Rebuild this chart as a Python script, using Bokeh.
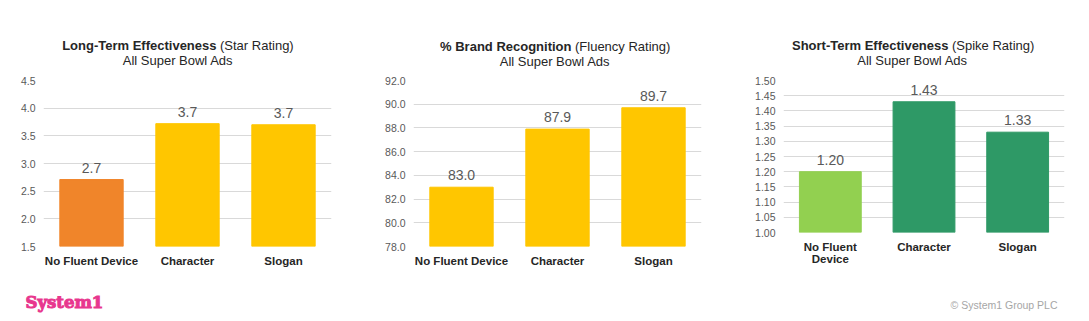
from bokeh.plotting import figure
from bokeh.layouts import row, column
from bokeh.models import ColumnDataSource, FixedTicker, LabelSet, Range1d
from bokeh.core.properties import value
from bokeh.embed import file_html
from bokeh.resources import INLINE

categories = ["No Fluent Device", "Character", "Slogan"]
categories_wrapped = ["No Fluent\nDevice", "Character", "Slogan"]

star_values = [2.71, 3.72, 3.70]
star_colors = ["#F0852A", "#FFC600", "#FFC600"]
star_ticks = [1.5, 2.0, 2.5, 3.0, 3.5, 4.0, 4.5]

fluency_values = [83.0, 87.9, 89.7]
fluency_colors = ["#FFC600", "#FFC600", "#FFC600"]
fluency_ticks = [78.0, 80.0, 82.0, 84.0, 86.0, 88.0, 90.0, 92.0]

spike_values = [1.20, 1.43, 1.33]
spike_colors = ["#92D050", "#2E9966", "#2E9966"]
spike_ticks = [1.00, 1.05, 1.10, 1.15, 1.20, 1.25, 1.30, 1.35, 1.40, 1.45, 1.50]

titles_bold = ["Long-Term Effectiveness", "% Brand Recognition", "Short-Term Effectiveness"]
titles_normal = ["(Star Rating)", "(Fluency Rating)", "(Spike Rating)"]
subtitle = "All Super Bowl Ads"
logo_text = "System1"
copyright_text = "\u00a9 System1 Group PLC"

FONT = "Liberation Sans"
GRID = "#D9D9D9"
TICK = "#595959"
DARK = "#262626"
PINK = "#E8378E"


def blank(width, height):
    p = figure(width=width, height=height, x_range=Range1d(0, width),
               y_range=Range1d(height, 0), x_axis_type=None, y_axis_type=None,
               output_backend="svg", toolbar_location=None, outline_line_color=None,
               min_border=0, min_border_left=0, min_border_right=0,
               min_border_top=0, min_border_bottom=0)
    p.xgrid.grid_line_color = None
    p.ygrid.grid_line_color = None
    return p


def title_fig(width, bold, normal, split_x, center_x, y1, y2):
    p = blank(width, 72)
    p.text(x=[split_x], y=[y1], text=[bold], text_align="right", text_baseline="middle",
           text_font=value(FONT), text_font_size="13px", text_font_style="bold",
           text_color=DARK)
    p.text(x=[split_x + 3.5], y=[y1], text=[normal], text_align="left",
           text_baseline="middle", text_font=value(FONT), text_font_size="13px",
           text_color=DARK)
    p.text(x=[center_x], y=[y2], text=[subtitle], text_align="center",
           text_baseline="middle", text_font=value(FONT), text_font_size="13px",
           text_color=DARK)
    return p


def make_chart(cats, values, colors, ticks, decimals, width, height, borders):
    left, right, top, bottom = borders
    p = figure(x_range=cats, y_range=Range1d(ticks[0], ticks[-1]),
               width=width, height=height, output_backend="svg", toolbar_location=None,
               min_border_left=left, min_border_right=right,
               min_border_top=top, min_border_bottom=bottom,
               outline_line_color=None)
    fmt = "{:.%df}" % decimals
    src = ColumnDataSource(dict(cat=cats, val=values, col=colors,
                                lab=[fmt.format(v) for v in values]))
    p.vbar(x="cat", top="val", bottom=ticks[0], width=0.66, color="col", source=src)
    p.add_layout(LabelSet(x="cat", y="val", text="lab", source=src, text_align="center",
                          text_baseline="alphabetic", y_offset=7, text_font=value(FONT),
                          text_font_size="14px", text_color=TICK))
    p.yaxis.ticker = FixedTicker(ticks=ticks)
    p.yaxis.major_label_overrides = {t: fmt.format(t) for t in ticks}
    p.yaxis.axis_line_color = None
    p.yaxis.major_tick_line_color = None
    p.yaxis.minor_tick_line_color = None
    p.yaxis.major_tick_out = 0
    p.yaxis.major_tick_in = 0
    p.yaxis.minor_tick_out = 0
    p.yaxis.major_label_text_font = FONT
    p.yaxis.major_label_text_font_size = "10.5px"
    p.yaxis.major_label_text_color = TICK
    p.yaxis.major_label_standoff = 8
    p.xaxis.axis_line_color = None
    p.xaxis.major_tick_line_color = None
    p.xaxis.major_tick_out = 0
    p.xaxis.major_tick_in = 0
    p.xaxis.major_label_text_font = FONT
    p.xaxis.major_label_text_font_size = "11.5px"
    p.xaxis.major_label_text_font_style = "bold"
    p.xaxis.major_label_text_color = DARK
    p.xaxis.major_label_text_line_height = 1.05
    p.xaxis.major_label_standoff = 8
    p.xgrid.grid_line_color = None
    p.ygrid.grid_line_color = GRID
    p.ygrid.ticker = FixedTicker(ticks=ticks)
    return p


t1 = title_fig(360, titles_bold[0], titles_normal[0], 216, 177.5, 45, 59.5)
t2 = title_fig(360, titles_bold[1], titles_normal[1], 211, 194.5, 46, 61)
t3 = title_fig(369, titles_bold[2], titles_normal[2], 228, 192, 45, 59.5)

p1 = make_chart(categories, star_values, star_colors, star_ticks, 1, 360, 222,
                (43, 29, 8, 48))
p2 = make_chart(categories, fluency_values, fluency_colors, fluency_ticks, 1, 360, 222,
                (53, 19, 8, 48))
p3 = make_chart(categories_wrapped, spike_values, spike_colors, spike_ticks, 2, 369, 208,
                (63, 25, 8, 48))

footer = blank(1089, 27)
footer.text(x=[25], y=[8], text=[logo_text], text_align="left", text_baseline="middle",
            text_font=value("DejaVu Serif"), text_font_size="16.5px",
            text_font_style="bold", text_color=PINK, text_outline_color=PINK)
footer.text(x=[1057], y=[10], text=[copyright_text], text_align="right",
            text_baseline="middle", text_font=value(FONT), text_font_size="10.5px",
            text_color="#A6A6A6")

layout = column(row(t1, t2, t3, spacing=0), row(p1, p2, p3, spacing=0), footer, spacing=0)
open("out.html", "w").write(file_html(layout, INLINE))
